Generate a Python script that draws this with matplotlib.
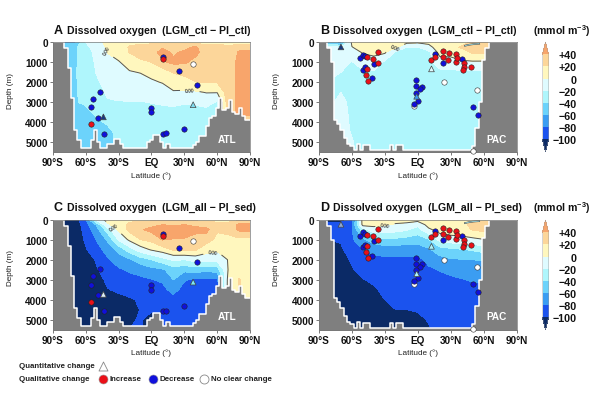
import matplotlib
matplotlib.use('Agg')
import matplotlib.pyplot as plt
from matplotlib.colors import ListedColormap, BoundaryNorm
import numpy as np

plt.rcParams['font.family'] = ['Liberation Sans', 'DejaVu Sans']
plt.rcParams['font.weight'] = 'bold'
plt.rcParams['mathtext.fontset'] = 'custom'
plt.rcParams['mathtext.bf'] = 'Liberation Sans:bold'
plt.rcParams['mathtext.rm'] = 'Liberation Sans:bold'

# grid of the sections
lat_grid = [-90, -80, -70, -60, -50, -40, -30, -20, -10, 0, 10, 20, 30, 40, 50, 60, 70, 80, 90]
depth_grid = [0, 250, 500, 1000, 1500, 2000, 2500, 3000, 3500, 4000, 4500, 5000, 5500]

# one row per latitude, from the surface down
dox_a = [
    [-65, -45, -45, -45, -45, -45, -45, -45, -45, -45, -50, -50, -50],
    [-65, -45, -45, -45, -45, -45, -45, -45, -45, -45, -50, -50, -50],
    [-65, -45, -44, -43, -42, -42, -42, -41, -43, -50, -55, -55, -55],
    [-20, -25, -28, -30, -32, -33, -35, -38, -44, -50, -52, -52, -52],
    [-10, -12, -15, -17, -19, -23, -28, -33, -37, -43, -50, -50, -50],
    [8, 3, 0.5, -5, -9, -13, -17, -22, -30, -38, -45, -45, -45],
    [10, 8, 5, -1, -5, -9, -14, -21, -25, -30, -35, -35, -35],
    [15, 22, 21, 5, -1, -6, -12, -21, -24, -28, -30, -32, -32],
    [15, 28, 26, 17, 0.5, -5, -12, -21, -24, -27, -30, -30, -30],
    [15, 30, 33, 20, 6, -3, -12, -19.5, -25, -28, -30, -30, -30],
    [15, 38, 46, 37, 8, 1, -10, -18, -25, -28, -30, -30, -30],
    [15, 30, 37, 44, 21, 10, -2, -17, -24, -28, -30, -30, -30],
    [15, 34, 44, 43, 25, 12, -3, -19, -25, -28, -28, -28, -28],
    [15, 44, 46, 33, 28, 19, -3, -18, -25, -28, -28, -28, -28],
    [15, 25, 30, 30, 28, 21, 1, -15, -25, -28, -28, -28, -28],
    [15, 28, 30, 30, 28, 21, 1, -22, -25, -28, -28, -28, -28],
    [10, 25, 28, 30, 30, 30, 30, 30, 32, 32, 32, 32, 32],
    [10, 35, 42, 45, 45, 45, 45, 45, 45, 30, 30, 30, 30],
    [10, 35, 42, 45, 45, 45, 45, 45, 45, 30, 30, 30, 30],
]
dox_b = [
    [-50, -15, -15, -15, -15, -22, -22, -22, -22, -22, -22, -22, -22],
    [-55, -15, -15, -15, -15, -22, -22, -22, -22, -22, -22, -22, -22],
    [-75, -18, -15, -15, -20, -23, -20, -17, -15, -15, -15, -15, -15],
    [5, -1, -10, -21, -24, -25, -24, -23, -23, -22, -21, -19, -19],
    [15, 10, 2, -13, -22, -25, -26, -26, -26, -26, -26, -26, -26],
    [15, 10, 5, -8, -23, -26, -27, -27, -27, -27, -27, -27, -27],
    [15, 9, 3, -24, -27, -27, -27, -27, -27, -27, -27, -27, -27],
    [15, 2, -24, -27, -27, -27, -27, -27, -27, -27, -27, -27, -27],
    [5, -20, -25, -27, -27, -27, -27, -27, -27, -27, -27, -27, -27],
    [3, -21, -25, -27, -27, -27, -27, -27, -27, -27, -27, -27, -27],
    [5, -7, -25, -27, -27, -27, -27, -27, -27, -27, -27, -27, -27],
    [15, 12, 7, -10, -25, -27, -27, -27, -27, -27, -27, -27, -27],
    [20, 15, 6, -7, -25, -27, -27, -27, -27, -27, -27, -27, -27],
    [15, 22, 12, -3, -24, -27, -27, -27, -27, -27, -27, -27, -27],
    [22, 30, 23, -3, -24, -27, -27, -27, -27, -27, -27, -27, -27],
    [25, 28, 22, -3, -24, -27, -27, -27, -27, -27, -27, -27, -27],
    [25, 28, 22, -3, -24, -27, -27, -27, -27, -27, -27, -27, -27],
    [25, 28, 22, -3, -24, -27, -27, -27, -27, -27, -27, -27, -27],
    [25, 28, 22, -3, -24, -27, -27, -27, -27, -27, -27, -27, -27],
]
dox_c = [
    [-115, -115, -115, -115, -115, -115, -115, -115, -115, -115, -115, -115, -115],
    [-115, -115, -115, -115, -115, -115, -115, -115, -115, -115, -115, -115, -115],
    [-110, -115, -115, -115, -115, -115, -115, -115, -115, -115, -115, -115, -115],
    [-85, -88, -92, -97, -102, -115, -115, -115, -115, -115, -115, -115, -115],
    [-10, -58, -68, -79, -88, -97, -102, -110, -112, -112, -112, -112, -112],
    [5, -3, -30, -57, -72, -83, -89, -95, -101, -115, -115, -115, -115],
    [15, 9, 3, -18, -54, -70, -83, -90, -97, -105, -110, -110, -110],
    [15, 25, 25, 4, -30, -63, -77, -87, -94, -102, -110, -103, -100],
    [15, 30, 38, 20, -10, -50, -73, -84, -92, -98, -99, -98, -98],
    [15, 35, 45, 25, 2, -40, -66, -81, -87, -90, -97, -110, -110],
    [15, 40, 48, 41, 10, -28, -63, -77, -86, -90, -90, -90, -90],
    [15, 38, 48, 39, 22, -17, -50, -60, -73, -88, -92, -92, -92],
    [15, 40, 50, 38, 25, -20, -55, -78, -88, -90, -90, -90, -90],
    [15, 36, 46, 32, 22, -13, -50, -85, -90, -90, -90, -90, -90],
    [15, 30, 46, 28, 8, -13, -55, -85, -92, -92, -92, -92, -92],
    [15, 25, 22, 15, 3, -13, -50, -85, -92, -92, -92, -92, -92],
    [15, 25, 25, 15, 10, 1, 1, 8, 10, 10, 10, 10, 10],
    [15, 45, 44, 15, 10, 10, 12, 21, 21, 10, 10, 10, 10],
    [15, 45, 44, 15, 10, 10, 10, 10, 10, 10, 10, 10, 10],
]
dox_d = [
    [-115, -85, -90, -100, -105, -115, -115, -115, -115, -115, -115, -115, -115],
    [-115, -85, -90, -100, -105, -115, -115, -115, -115, -115, -115, -115, -115],
    [-115, -85, -90, -98, -103, -110, -115, -115, -115, -115, -115, -115, -115],
    [-90, -85, -82, -83, -90, -97, -102, -106, -112, -112, -112, -112, -112],
    [10, 8, -30, -65, -80, -86, -92, -101, -108, -112, -112, -112, -112],
    [10, 5, -8, -48, -76, -84, -89, -96, -103, -110, -115, -115, -115],
    [10, 2, -10, -43, -73, -83, -87, -91, -95, -100, -110, -115, -115],
    [10, -3, -13, -45, -72, -83, -86, -89, -93, -96, -100, -110, -110],
    [8, -5, -18, -48, -72, -84, -86, -89, -92, -95, -100, -110, -110],
    [8, -15, -28, -52, -70, -85, -87, -90, -93, -96, -98, -106, -110],
    [12, 8, -4, -42, -63, -75, -83, -88, -91, -94, -96, -98, -103],
    [12, 12, 8, -14, -50, -67, -79, -86, -90, -92, -92, -92, -92],
    [15, 15, 10, -8, -45, -62, -73, -85, -90, -92, -92, -92, -92],
    [15, 18, 12, -7, -42, -61, -72, -81, -88, -90, -90, -90, -90],
    [18, 22, 21, -5, -38, -60, -70, -78, -87, -90, -90, -90, -90],
    [18, 25, 25, -1, -32, -59, -68, -77, -85, -90, -90, -90, -90],
    [18, 25, 25, -1, -32, -59, -68, -77, -85, -90, -90, -90, -90],
    [18, 25, 25, -1, -32, -59, -68, -77, -85, -90, -90, -90, -90],
    [18, 25, 25, -1, -32, -59, -68, -77, -85, -90, -90, -90, -90],
]

# sea floor, every 3 degrees from 90S to 90N
bathy_lat = list(range(-90, 91, 3))
bathy_atl = [0, 0, 0, 0, 300, 1300, 2800, 4400, 4900, 5300, 5300, 5300, 4900, 4400, 5000, 5300, 5300, 5100,
             5100, 4850, 4850, 5100, 5300, 5300, 5300, 5300, 5300, 5300, 5300, 5000, 4900, 4650, 4650, 5000,
             5300, 5100, 5300, 5300, 5300, 5300, 5300, 5300, 5300, 5150, 5000, 4700, 4700, 4200, 3800, 3700,
             3300, 2800, 3400, 3300, 2900, 3500, 3600, 3300, 3700, 3900, 3900]
bathy_pac = [0, 0, 0, 300, 1000, 3900, 4100, 4400, 4800, 5100, 5200, 5400, 5100, 5400, 5150, 5150, 5400, 5400,
             5400, 5400, 5400, 5400, 5150, 5400, 5150, 5150, 5400, 5400, 5400, 5400, 5400, 5400, 5400, 5400,
             5400, 5400, 5400, 5400, 5400, 5400, 5400, 5400, 5400, 5400, 5400, 5400, 5400, 5200, 4300, 3000,
             900, 300, 0, 0, 0, 0, 0, 0, 0, 0, 0]

# shallow zero contour near the surface in the north pacific
eddy_lat = [43, 47, 51, 56]
eddy_dep = [170, 120, 90, 70]

# proxy sites
atl_blue_lat = [-46.8, -53.2, -55.3, -49, -43.2, 0, 0, 10.6, 13.3, 29.8, 24.9, 41.3, 10.6]
atl_blue_dep = [2470, 2830, 3250, 3770, 4580, 3280, 3500, 4580, 4550, 4330, 1430, 2130, 730]
atl_red_lat = [-55.3, 10.6]
atl_red_dep = [4100, 830]
atl_white_lat = [38]
atl_white_dep = [1080]
atl_tri_lat = [-43.8, 38]
atl_tri_dep = [3730, 3120]

pac_blue_lat = [-52.6, -50.2, -47.8, -49.9, -47.8, -40.2, -42, 16.1, 22.8, 40.1, -1.2, -1.9, 3.6, 2.4, -1.9, 0.6, -3.1, 50.4, 54.7]
pac_blue_dep = [800, 620, 700, 1370, 1250, 1070, 1800, 570, 1020, 820, 1900, 2200, 2220, 2350, 2530, 2920, 3080, 3230, 3630]
pac_red_lat = [-35.9, -40.5, -35.9, -46.2, -46.5, -46.8, -45.6, 12.4, 16.1, 23.1, 28.2, 23.4, 34.6, 27.6, 34.9, 35.8, 42.2, 42.5, 41, 48.9]
pac_red_dep = [480, 830, 1020, 750, 1330, 1630, 1930, 870, 730, 420, 520, 730, 580, 880, 980, 780, 1020, 1220, 1380, 1250]
pac_white_lat = [23.7, 54.4, -3.4, 50.1]
pac_white_dep = [2000, 2380, 3200, 5450]
pac_tri_lat = [-70, 12.5, -1]
pac_tri_dep = [230, 1330, 2700]

levels = [-100, -80, -60, -40, -20, 0, 20, 40]
band_colors = ['#1B53EE', '#3B9DF2', '#6CD3FB', '#AFF6FC', '#DFFBFF', '#FFF7BE', '#FCD69A']
cbar_labels = ['\u2212100', '\u221280', '\u221260', '\u221240', '\u221220', '0', '+20', '+40']
xtick_labels = ['90°S', '60°S', '30°S', 'EQ', '30°N', '60°N', '90°N']

cmap = ListedColormap(band_colors)
cmap.set_under('#0B2A66')
cmap.set_over('#F8A56B')
norm = BoundaryNorm(levels, cmap.N)

LAND = '#7F7F7F'
W, H = 600, 410
fig = plt.figure(figsize=(W / 100, H / 100), dpi=100)


def px_axes(x0, y0, x1, y1):
    return fig.add_axes([x0 / W, 1 - y1 / H, (x1 - x0) / W, (y1 - y0) / H])


def section(x0, y0, field, bathy, basin, letter, title, sites, tri_colors, zero_labels):
    ax = px_axes(x0, y0, x0 + 197.5, y0 + 110)
    z = np.array(field, dtype=float).T
    cf = ax.contourf(lat_grid, depth_grid, z, levels=levels, cmap=cmap, norm=norm, extend='both', zorder=1)
    cs = ax.contour(lat_grid, depth_grid, z, levels=[0], colors='#555555', linewidths=0.7, zorder=1.5)
    ax.clabel(cs, fmt='%.2f', fontsize=3.5, colors='#444444', manual=zero_labels)
    ax.fill_between(bathy_lat, bathy, 5600, step='mid', color=LAND, lw=0, zorder=2)
    ax.step(bathy_lat, bathy, where='mid', color='white', lw=1.1, zorder=2.5)
    if basin == 'PAC':
        ax.plot(eddy_lat, eddy_dep, color='#444444', lw=1.2, zorder=1.6)
        ax.plot(eddy_lat, eddy_dep, color='#AFF6FC', lw=0.5, zorder=1.7)
    ax.set_xlim(-90, 90)
    ax.set_ylim(5500, 0)
    ax.set_xticks(range(-90, 91, 30))
    ax.set_xticklabels(xtick_labels)
    ax.set_yticks(range(0, 5001, 1000))
    ax.tick_params(labelsize=7.2, length=2, width=0.5, pad=1.5, color='#444444', labelcolor='#111111')
    ax.set_xlabel('Latitude (°)', fontsize=5.9, color='#222222', labelpad=3)
    ax.set_ylabel('Depth (m)', fontsize=5.9, color='#222222')
    ax.yaxis.set_label_coords(-0.195, 0.57)
    for s in ax.spines.values():
        s.set_linewidth(0.5)
        s.set_color('#777777')

    blue, red, white, tri = sites
    ax.scatter(*white, s=15, c='white', edgecolors='#333333', linewidths=0.4, zorder=5, clip_on=False)
    ax.scatter(*blue, s=15, c='#1010DC', edgecolors='#222222', linewidths=0.4, zorder=5)
    ax.scatter(*red, s=15, c='#EA1018', edgecolors='#222222', linewidths=0.4, zorder=5.5)
    ax.scatter(*tri, s=17, marker='^', c=tri_colors, edgecolors='#444444', linewidths=0.5, zorder=6)

    ax.text(72 if basin == 'PAC' else 68.7, 4830, basin, color='white', fontsize=7.2, ha='center', va='center', zorder=7)
    fig.text((x0 + 1) / W, 1 - (y0 - 12.5) / H, letter, fontsize=9, ha='left', va='center', color='#111111')
    fig.text((x0 + 14) / W, 1 - (y0 - 12.5) / H, title, fontsize=7.6, ha='left', va='center', color='#111111')
    return cf


atl_sites = ((atl_blue_lat, atl_blue_dep), (atl_red_lat, atl_red_dep), (atl_white_lat, atl_white_dep), (atl_tri_lat, atl_tri_dep))
pac_sites = ((pac_blue_lat, pac_blue_dep), (pac_red_lat, pac_red_dep), (pac_white_lat, pac_white_dep), (pac_tri_lat, pac_tri_dep))

cf_top = section(52.7, 43.3, dox_a, bathy_atl, 'ATL', 'A', 'Dissolved oxygen  (LGM_ctl \u2212 PI_ctl)', atl_sites,
                 ['#173A80', '#7FDCF0'], [(-43, 450), (35, 2370)])
section(319, 43.3, dox_b, bathy_pac, 'PAC', 'B', 'Dissolved oxygen  (LGM_ctl \u2212 PI_ctl)', pac_sites,
        ['#173A80', '#DFFBFF', '#3B9DF2'], [(-20, 370)])
section(52.7, 220.7, dox_c, bathy_atl, 'ATL', 'C', 'Dissolved oxygen  (LGM_all \u2212 PI_sed)', atl_sites,
        ['#DCEFF8', '#7FE8F0'], [(-36, 530), (56.5, 1780)])
cf_bot = section(319, 220.7, dox_d, bathy_pac, 'PAC', 'D', 'Dissolved oxygen  (LGM_all \u2212 PI_sed)', pac_sites,
                 ['#8FA8D0', '#AFF6FC', '#AFF6FC'], [(-30, 230)])

# colour bars and their units
for cf, y_top, y_bot, y_unit in [(cf_top, 43, 152.7, 30.7), (cf_bot, 221, 330.7, 208)]:
    cax = px_axes(542.5, y_top, 548.5, y_bot)
    cb = fig.colorbar(cf, cax=cax, extend='both', extendfrac=0.145, ticks=levels)
    cb.ax.set_yticklabels(cbar_labels, ha='right')
    cb.ax.tick_params(length=0, labelsize=7.7, pad=20.5, labelcolor='#111111')
    cb.outline.set_linewidth(0.3)
    cb.outline.set_edgecolor('#999999')
    fig.text(562 / W, 1 - y_unit / H, r'(mmol m$^{\mathbf{-3}}$)', fontsize=7.6, ha='center', va='center', color='#111111')

# marker key at the bottom left
key = fig.add_axes([0, 0, 1, 1])
key.set_xlim(0, W)
key.set_ylim(H, 0)
key.axis('off')
key.patch.set_alpha(0)
key.text(19, 367, 'Quantitative change', fontsize=5.7, va='center', color='#222222')
key.text(19, 380, 'Qualitative change', fontsize=5.7, va='center', color='#222222')
key.scatter([102.5], [367], s=42, marker='^', c='white', edgecolors='#888888', linewidths=0.6)
key.scatter([102.5], [380], s=42, c='#EA1018', edgecolors='#999999', linewidths=0.4)
key.text(109, 380, 'Increase', fontsize=5.7, va='center', color='#222222')
key.scatter([153], [380], s=42, c='#1010DC', edgecolors='#999999', linewidths=0.4)
key.text(160, 380, 'Decrease', fontsize=5.7, va='center', color='#222222')
key.scatter([204], [380], s=42, c='white', edgecolors='#888888', linewidths=0.6)
key.text(211, 380, 'No clear change', fontsize=5.7, va='center', color='#222222')

fig.savefig('out.png', dpi=100)
